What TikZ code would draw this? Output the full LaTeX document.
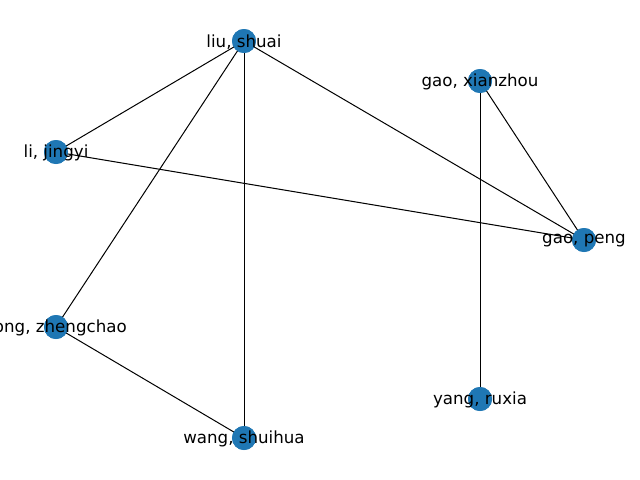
\documentclass[tikz,border=0pt]{standalone}
\usepackage{fontspec}
\setmainfont{DejaVu Sans}
\definecolor{nxblue}{HTML}{1F77B4}
\begin{document}
\begin{tikzpicture}[x=0.72pt,y=-0.72pt,
  vertex/.style={circle,fill=nxblue,draw=none,minimum size=17.28pt,inner sep=0pt},
  lbl/.style={inner sep=0pt,font=\fontsize{12}{14}\selectfont,text=black,yshift=-0.5pt},
  edge/.style={draw=black,line width=0.72pt}]
\useasboundingbox (0,0) rectangle (640,480);
\clip (0,0) rectangle (640,480);
\node[vertex] (liu) at (244,41) {};
\node[vertex] (gx) at (480,81) {};
\node[vertex] (li) at (56,152) {};
\node[vertex] (gp) at (584,240) {};
\node[vertex] (song) at (56,327) {};
\node[vertex] (yang) at (480,399) {};
\node[vertex] (wang) at (244,438) {};
\coordinate (songend) at (127,327);
\draw[edge] (liu.center) -- (li.center);
\draw[edge] (liu.center) -- (song.center);
\draw[edge] (liu.center) -- (wang.center);
\draw[edge] (liu.center) -- (gp.center);
\draw[edge] (li.center) -- (gp.center);
\draw[edge] (gx.center) -- (gp.center);
\draw[edge] (gx.center) -- (yang.center);
\draw[edge] (song.center) -- (wang.center);
\node[vertex] at (liu) {};
\node[vertex] at (gx) {};
\node[vertex] at (li) {};
\node[vertex] at (gp) {};
\node[vertex] at (song) {};
\node[vertex] at (yang) {};
\node[vertex] at (wang) {};
\node[lbl] (tliu) at (liu) {liu, shuai};
\node[lbl] (tgx) at (gx) {gao, xianzhou};
\node[lbl] (tli) at (li) {li, jingyi};
\node[lbl] (tgp) at (gp) {gao, peng};
\node[lbl,anchor=east] (tsong) at (songend) {ong, zhengchao};
\node[lbl] (tyang) at (yang) {yang, ruxia};
\node[lbl] (twang) at (wang) {wang, shuihua};
\end{tikzpicture}
\end{document}
